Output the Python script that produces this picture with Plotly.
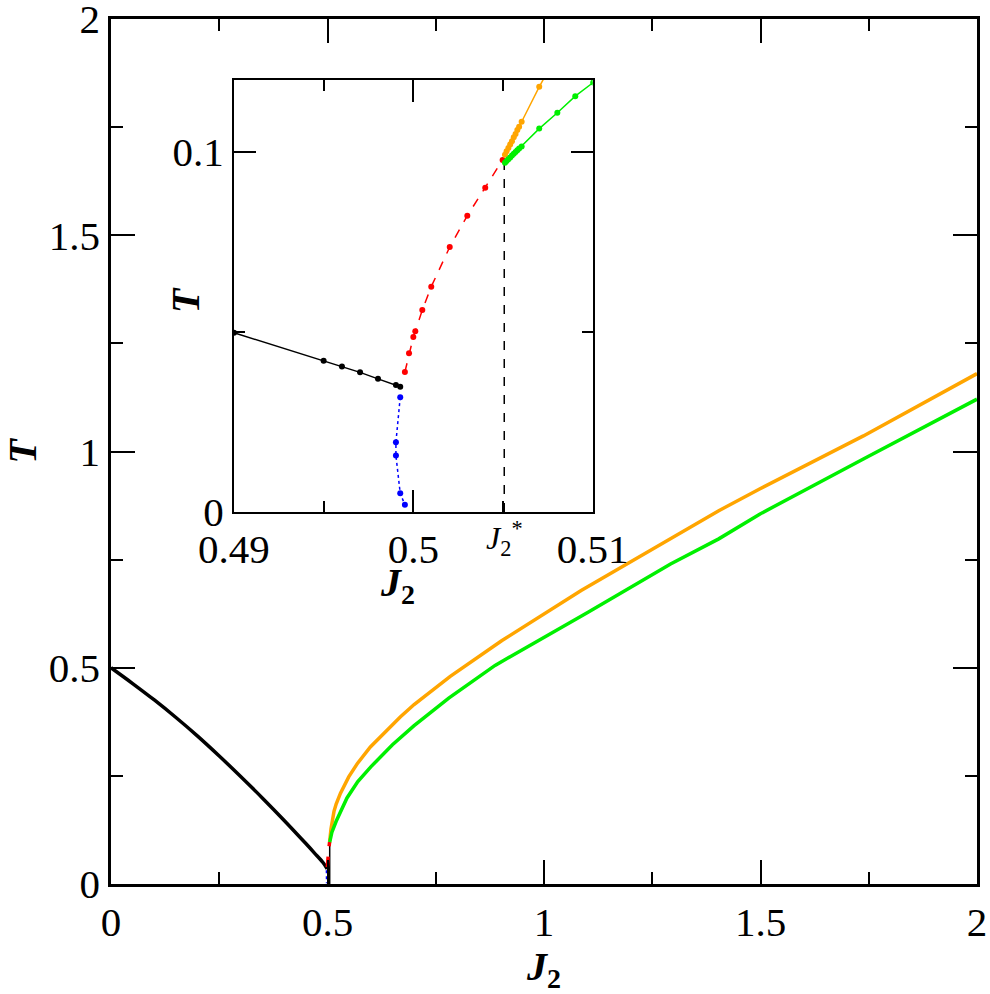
import plotly.graph_objects as go

# ---------------- data ----------------
J2_star = 0.50507

# main-panel curves
main_black_J = [0.0, 0.05, 0.1, 0.15, 0.2, 0.25, 0.3, 0.35, 0.4, 0.45, 0.47, 0.49, 0.49927]
main_black_T = [0.5, 0.4635, 0.4255, 0.385, 0.342, 0.296, 0.248, 0.1985, 0.147, 0.0935, 0.0715, 0.049, 0.0348]

main_orange_J = [0.515, 0.52, 0.53, 0.549, 0.57, 0.599, 0.668, 0.7, 0.7835, 0.903, 1.0858, 1.197, 1.4036, 1.499, 1.7376, 2.0]
main_orange_T = [0.168, 0.185, 0.21, 0.2477, 0.28, 0.317, 0.386, 0.415, 0.480, 0.563, 0.6786, 0.744, 0.8632, 0.914, 1.036, 1.180]

main_green_J = [0.52, 0.53, 0.545, 0.57, 0.6, 0.65, 0.7, 0.78, 0.887, 1.1017, 1.2923, 1.4036, 1.499, 1.7376, 2.0]
main_green_T = [0.145, 0.168, 0.199, 0.237, 0.2708, 0.322, 0.366, 0.43, 0.5055, 0.6285, 0.740, 0.798, 0.8556, 0.9826, 1.121]

# inset (zoom near J2 = 0.5)
ins_black_J = [0.49, 0.4950, 0.49602, 0.49703, 0.49803, 0.49903, 0.49927]
ins_black_T = [0.0498, 0.0420, 0.0404, 0.0388, 0.0370, 0.0353, 0.0348]

ins_blue_J = [0.49927, 0.49903, 0.49903, 0.49927, 0.49953]
ins_blue_T = [0.0319, 0.0194, 0.0157, 0.0052, 0.0020]

ins_red_J = [0.49953, 0.49976, 0.5000, 0.50011, 0.50050, 0.50100, 0.50203, 0.50301, 0.50401, 0.50498]
ins_red_T = [0.0389, 0.0441, 0.0486, 0.0502, 0.0561, 0.0626, 0.0736, 0.0823, 0.0901, 0.0978]

ins_orange_J = [0.50511, 0.5052, 0.5053, 0.5054, 0.5055, 0.5056, 0.5057, 0.5058, 0.5059, 0.50604, 0.50702, 0.50803]
ins_orange_T = [0.0992, 0.1002, 0.1011, 0.1021, 0.1030, 0.1041, 0.1050, 0.1061, 0.1070, 0.1084, 0.1181, 0.1272]

ins_green_J = [0.50511, 0.5052, 0.5053, 0.5054, 0.5055, 0.5056, 0.5057, 0.5058, 0.5059, 0.50604, 0.50702, 0.50803, 0.50903, 0.51003]
ins_green_T = [0.0970, 0.0975, 0.0980, 0.0985, 0.0990, 0.0995, 0.1000, 0.1005, 0.1010, 0.1015, 0.1065, 0.1109, 0.1155, 0.1193]

main_xticks = [0, 0.5, 1, 1.5, 2]
main_xticktext = ["0", "0.5", "1", "1.5", "2"]
main_yticks = [0, 0.5, 1, 1.5, 2]
main_yticktext = ["0", "0.5", "1", "1.5", "2"]
ins_xticks = [0.49, 0.5, 0.51]
ins_xticktext = ["0.49", "0.5", "0.51"]
ins_yticks = [0, 0.1]
ins_yticktext = ["0", "0.1"]

# ---------------- figure ----------------
FONT = "Liberation Serif, Times New Roman, Times, serif"
ORANGE = "#FFA500"
GREEN = "#00F000"

fig = go.Figure()

# main panel
fig.add_trace(go.Scatter(x=[J2_star, J2_star], y=[0, ins_red_T[-1]], mode="lines",
                         line=dict(color="black", width=1.5), xaxis="x", yaxis="y"))
fig.add_trace(go.Scatter(x=ins_blue_J, y=ins_blue_T, mode="lines",
                         line=dict(color="blue", width=3, dash="dot"), xaxis="x", yaxis="y"))
fig.add_trace(go.Scatter(x=main_black_J, y=main_black_T, mode="lines", line_shape="spline",
                         line=dict(color="black", width=3.5), xaxis="x", yaxis="y"))
fig.add_trace(go.Scatter(x=ins_red_J, y=ins_red_T, mode="lines",
                         line=dict(color="red", width=3.5, dash="dash"), xaxis="x", yaxis="y"))
fig.add_trace(go.Scatter(x=ins_orange_J + main_orange_J, y=ins_orange_T + main_orange_T, mode="lines",
                         line=dict(color=ORANGE, width=3.5), xaxis="x", yaxis="y"))
fig.add_trace(go.Scatter(x=ins_green_J + main_green_J, y=ins_green_T + main_green_T, mode="lines",
                         line=dict(color=GREEN, width=3.5), xaxis="x", yaxis="y"))

# inset panel
fig.add_trace(go.Scatter(x=[J2_star, J2_star], y=[0, ins_green_T[0]], mode="lines",
                         line=dict(color="black", width=1.5, dash="dash"), xaxis="x2", yaxis="y2"))
fig.add_trace(go.Scatter(x=ins_black_J, y=ins_black_T, mode="lines+markers",
                         line=dict(color="black", width=1.5), marker=dict(size=6, color="black"),
                         xaxis="x2", yaxis="y2"))
fig.add_trace(go.Scatter(x=ins_blue_J, y=ins_blue_T, mode="lines+markers",
                         line=dict(color="blue", width=1.5, dash="dot"), marker=dict(size=6, color="blue"),
                         xaxis="x2", yaxis="y2"))
fig.add_trace(go.Scatter(x=ins_red_J, y=ins_red_T, mode="lines+markers",
                         line=dict(color="red", width=1.5, dash="dash"), marker=dict(size=6, color="red"),
                         xaxis="x2", yaxis="y2"))
fig.add_trace(go.Scatter(x=ins_orange_J, y=ins_orange_T, mode="lines+markers",
                         line=dict(color=ORANGE, width=1.5), marker=dict(size=6, color=ORANGE),
                         xaxis="x2", yaxis="y2"))
fig.add_trace(go.Scatter(x=ins_green_J, y=ins_green_T, mode="lines+markers",
                         line=dict(color=GREEN, width=1.5), marker=dict(size=6, color=GREEN),
                         xaxis="x2", yaxis="y2"))

axis_common = dict(showgrid=False, zeroline=False, showline=True, linecolor="black",
                   ticks="inside", tickcolor="black", mirror="ticks", automargin=False,
                   ticklabeloverflow="allow",
                   tickfont=dict(family=FONT, size=41, color="black"))

fig.update_layout(
    width=990, height=994,
    margin=dict(l=111, r=13, t=19, b=110),
    plot_bgcolor="white", paper_bgcolor="white",
    showlegend=False,
    font=dict(family=FONT, size=40, color="black"),
    xaxis=dict(axis_common, range=[0, 2], tickvals=main_xticks, ticktext=main_xticktext,
               ticklen=24, tickwidth=2, linewidth=2.5,
               minor=dict(ticks="inside", ticklen=12, tickwidth=2, dtick=0.25, tick0=0, tickcolor="black"),
               title=dict(text="<b><i>J</i><sub>2</sub></b>", font=dict(family=FONT, size=40), standoff=10)),
    yaxis=dict(axis_common, range=[0, 2], tickvals=main_yticks, ticktext=main_yticktext,
               ticklen=24, tickwidth=2, linewidth=2.5,
               minor=dict(ticks="inside", ticklen=12, tickwidth=2, dtick=0.25, tick0=0, tickcolor="black"),
               title=dict(text="<b><i>T</i></b>", font=dict(family=FONT, size=40), standoff=14)),
    xaxis2=dict(axis_common, domain=[0.142, 0.5562], anchor="y2", range=[0.49, 0.51],
                tickvals=ins_xticks, ticktext=ins_xticktext,
                ticklen=22, tickwidth=2, linewidth=2,
                minor=dict(ticks="inside", ticklen=11, tickwidth=2, dtick=0.005, tick0=0.49, tickcolor="black")),
    yaxis2=dict(axis_common, domain=[0.43, 0.9295], anchor="x2", range=[0, 0.12],
                tickvals=ins_yticks, ticktext=ins_yticktext,
                ticklen=22, tickwidth=2, linewidth=2,
                minor=dict(ticks="inside", ticklen=11, tickwidth=2, dtick=0.05, tick0=0, tickcolor="black")),
    annotations=[
        dict(text="<i>J</i><sub>2</sub><sup>*</sup>", x=J2_star, xref="x2", y=0.43, yref="paper",
             yanchor="top", xanchor="center", yshift=-2, showarrow=False,
             font=dict(family=FONT, size=32, color="black")),
        dict(text="<b><i>J</i><sub>2</sub></b>", x=0.3314, xref="paper", y=0.3457, yref="paper",
             xanchor="center", yanchor="middle", showarrow=False,
             font=dict(family=FONT, size=40, color="black")),
        dict(text="<b><i>T</i></b>", x=0.0855, xref="paper", y=0.675, yref="paper",
             xanchor="center", yanchor="middle", showarrow=False, textangle=-90,
             font=dict(family=FONT, size=40, color="black")),
    ],
)

fig.write_html("out.html")
